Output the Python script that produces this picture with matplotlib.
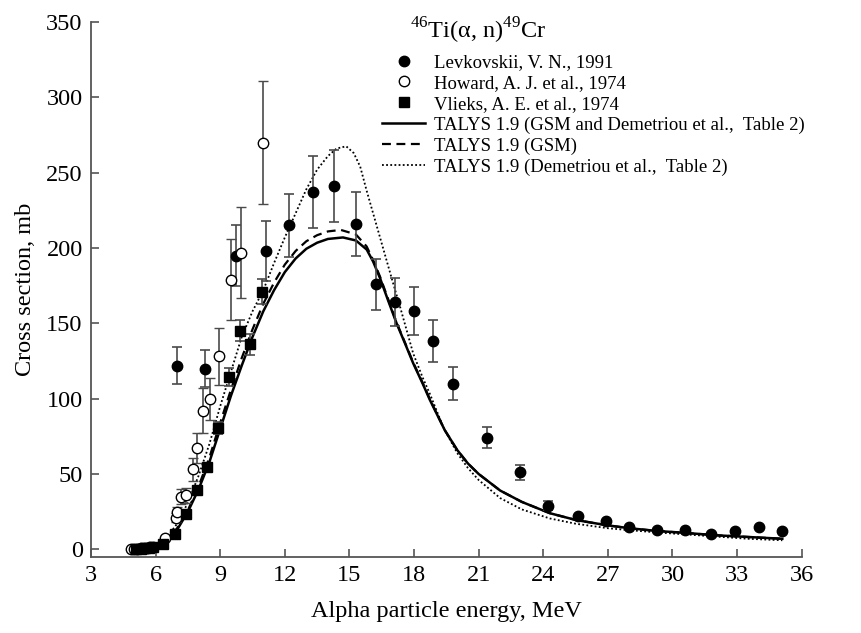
import numpy as np
import matplotlib
matplotlib.use('Agg')
import matplotlib.pyplot as plt
from matplotlib.lines import Line2D

plt.rcParams['font.family'] = ['Liberation Serif', 'DejaVu Serif']
plt.rcParams['mathtext.fontset'] = 'custom'
plt.rcParams['mathtext.rm'] = 'Liberation Serif'

# Levkovskii, V. N., 1991
lev_e = [6.98, 8.29, 9.72, 11.11, 12.2, 13.31, 14.3, 15.3, 16.22, 17.11, 18.0, 18.9, 19.79,
         21.4, 22.9, 24.2, 25.6, 26.9, 28.0, 29.3, 30.6, 31.8, 32.9, 34.0, 35.1]
lev_s = [122, 120, 195, 198, 215, 237, 241, 216, 176, 164, 158, 138, 110,
         74, 51, 29, 22, 19, 15, 12.8, 12.8, 10.4, 11.9, 14.6, 12.1]
lev_err = [12, 12, 20, 20, 21, 24, 24, 21, 17, 16, 16, 14, 11,
           7, 5, 3, 0, 0, 0, 0, 0, 0, 0, 0, 0]

# Howard, A. J. et al., 1974
how_e = [4.85, 5.0, 5.15, 5.3, 5.45, 5.6, 5.75, 5.9, 6.43, 6.94, 7.0, 7.16, 7.41,
         7.72, 7.93, 8.21, 8.52, 8.96, 9.49, 9.96, 11.0]
how_s = [0.3, 0.4, 0.5, 0.6, 0.8, 1.0, 1.3, 1.8, 7.3, 21, 25, 35, 36,
         53, 67.5, 92, 100, 128, 179, 197, 270]
how_err = [0, 0, 0, 0, 0, 0, 0, 0, 1, 3, 3, 5, 5,
           7.5, 10, 15, 14, 19, 27, 30, 41]

# Vlieks, A. E. et al., 1974
vli_e = [5.1, 5.3, 5.5, 5.7, 5.9, 6.36, 6.9, 7.41, 7.9, 8.4, 8.91, 9.42, 9.92, 10.4, 10.92]
vli_s = [0.3, 0.5, 0.8, 1.2, 1.7, 3.5, 10.2, 23.4, 39.4, 54.4, 80.3, 114.6, 145, 136, 171]
vli_err = [0, 0, 0, 0, 0, 0, 0, 0, 0, 0, 4, 6, 7, 7, 8.5]

# TALYS 1.9 curves
e_gsm_dem = [5.0, 5.5, 6.0, 6.5, 7.0, 7.5, 8.0, 8.5, 9.0, 9.5, 10.0, 10.5, 11.0, 11.5, 12.0,
             12.5, 13.0, 13.5, 14.0, 14.7, 15.3, 15.8, 16.1, 16.42, 16.8, 17.19, 17.6, 17.96,
             18.4, 18.74, 19.43, 20.0, 20.5, 21.0, 22.0, 23.0, 24.3, 25.5, 26.94, 28.0, 29.26,
             30.5, 32.05, 33.5, 35.1]
s_gsm_dem = [0.3, 0.8, 2.5, 6, 13, 25, 40, 58, 80, 102, 122, 141, 158, 172, 184,
             193, 199.5, 203.5, 206, 207, 205, 199, 191, 180, 165, 150, 136, 123.5,
             110, 99, 79, 66, 57, 50, 39, 31.5, 24, 19.5, 16, 14, 12.2,
             11, 9.3, 8.2, 7]

e_gsm = [5.0, 5.5, 6.0, 6.5, 7.0, 7.5, 8.0, 8.5, 9.0, 9.5, 10.0, 10.5, 11.0, 11.5, 12.0,
         12.5, 13.0, 13.5, 14.0, 14.6, 15.3, 15.8, 16.1, 16.42, 16.8, 17.19, 17.6, 17.96,
         18.4, 18.74, 19.43, 20.0, 20.5, 21.0, 22.0, 23.0, 24.3, 25.5, 26.94, 28.0, 29.26,
         30.5, 32.05, 33.5, 35.1]
s_gsm = [0.3, 0.8, 2.6, 6.3, 14, 26, 42, 61, 84, 106, 127, 146, 163, 177, 189,
         198, 204.5, 208.5, 211, 212, 209, 201, 192, 181, 166, 150.5, 136.5, 124,
         110.5, 99.5, 79, 66, 57, 50, 39, 31.5, 24, 19.5, 16, 14, 12.2,
         11, 9.3, 8.2, 7]

e_dem = [5.0, 5.5, 6.0, 6.5, 7.0, 7.5, 8.0, 8.5, 9.0, 9.5, 10.0, 10.5, 11.0, 11.5, 12.0,
         12.5, 13.0, 13.5, 14.0, 14.4, 14.85, 15.2, 15.5, 15.8, 16.2, 16.6, 17.0, 17.35,
         17.96, 18.4, 18.74, 19.36, 20.0, 20.5, 21.0, 22.0, 23.0, 24.3, 25.5, 27.0, 28.0,
         29.3, 30.5, 32.0, 33.5, 35.1]
s_dem = [0.3, 0.9, 2.8, 7.5, 17, 31, 49, 70, 95, 118, 141, 158, 172, 190, 207,
         223, 239, 252, 261, 266, 267.5, 263, 254, 238, 218, 198, 178, 161,
         130, 114, 103, 81, 64, 54, 46, 34, 26.5, 20.5, 17, 14, 12.7,
         11.2, 10, 8.5, 7, 6]

fig = plt.figure(figsize=(8.61, 6.33), dpi=100)
ax = fig.add_axes([91 / 861, 1 - 556.7 / 633, (801.7 - 91) / 861, (556.7 - 22) / 633])

ax.plot(e_gsm_dem, s_gsm_dem, color='black', lw=1.8, ls='-', zorder=2)
ax.plot(e_gsm, s_gsm, color='black', lw=1.6, ls=(0, (4, 2.5)), zorder=2)
ax.plot(e_dem, s_dem, color='black', lw=1.3, ls=(0, (1, 1.3)), zorder=2)

ebar = dict(ecolor='#4a4a4a', elinewidth=1.2, capsize=3.6, capthick=1.2, ls='none', zorder=3)
ax.errorbar(lev_e, lev_s, yerr=lev_err, marker='o', ms=7.5, mfc='black', mec='black', **ebar)
ax.errorbar(how_e, how_s, yerr=how_err, marker='o', ms=7.5, mfc='white', mec='black', mew=1.0, **ebar)
ax.errorbar(vli_e, vli_s, yerr=vli_err, marker='s', ms=6.5, mfc='black', mec='black', **ebar)

ax.set_xlim(3, 36)
ax.set_ylim(-4.9, 350)
ax.set_xticks(np.arange(3, 37, 3))
ax.set_yticks(np.arange(0, 351, 50))
ax.spines['top'].set_visible(False)
ax.spines['right'].set_visible(False)
for s in ['left', 'bottom']:
    ax.spines[s].set_color('#555555')
    ax.spines[s].set_linewidth(1.3)
ax.tick_params(direction='in', length=5.5, width=1.2, color='#555555', labelsize=17.5, pad=6)

ax.set_xlabel('Alpha particle energy, MeV', fontsize=17.5, labelpad=11)
ax.set_ylabel('Cross section, mb', fontsize=17.5, labelpad=7)

fig.text(478 / 861, 1 - 31 / 633, r'$^{46}$Ti(α, n)$^{49}$Cr', fontsize=17.5, ha='center', va='center')

handles = [
    Line2D([], [], ls='none', marker='o', ms=7.5, mfc='black', mec='black'),
    Line2D([], [], ls='none', marker='o', ms=7.5, mfc='white', mec='black'),
    Line2D([], [], ls='none', marker='s', ms=6.5, mfc='black', mec='black'),
    Line2D([], [], color='black', lw=1.8, ls='-'),
    Line2D([], [], color='black', lw=1.6, ls=(0, (4, 2.5))),
    Line2D([], [], color='black', lw=1.3, ls=(0, (1, 1.3))),
]
labels = ['Levkovskii, V. N., 1991', 'Howard, A. J. et al., 1974', 'Vlieks, A. E. et al., 1974',
          'TALYS 1.9 (GSM and Demetriou et al.,  Table 2)', 'TALYS 1.9 (GSM)',
          'TALYS 1.9 (Demetriou et al.,  Table 2)']
fig.legend(handles, labels, loc='upper left', bbox_to_anchor=(382 / 861, 1 - 54 / 633),
           frameon=False, fontsize=13.5, handlelength=2.3, handletextpad=0.45,
           labelspacing=0.2, borderpad=0, borderaxespad=0)

fig.savefig('out.png', dpi=100)
